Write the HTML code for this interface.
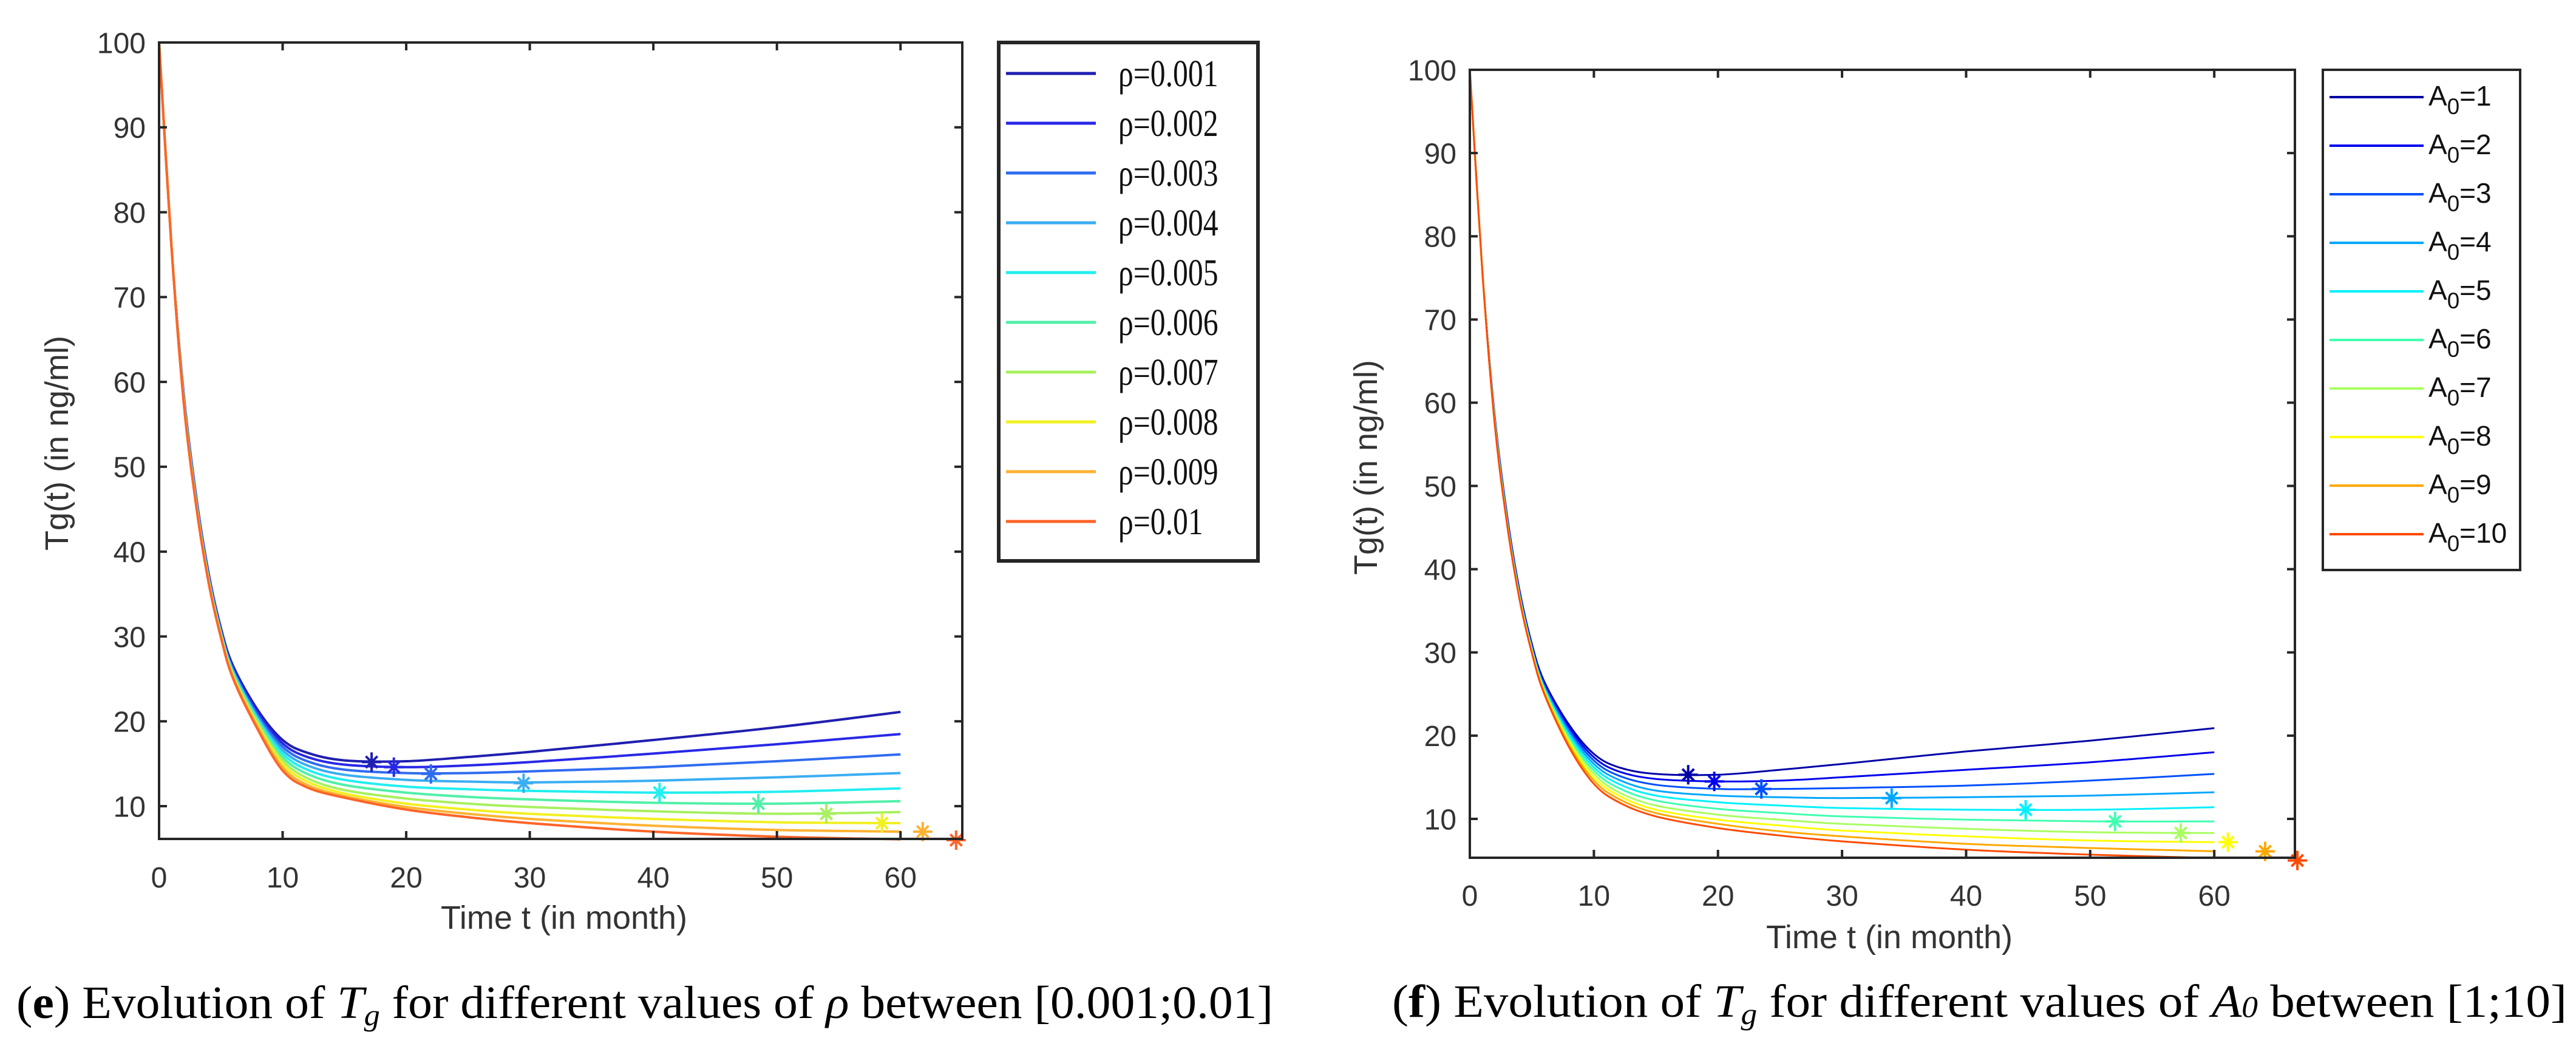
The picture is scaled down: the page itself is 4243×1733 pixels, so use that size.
<!DOCTYPE html>
<html><head><meta charset="utf-8"><style>
html,body{margin:0;padding:0;background:#fff;}
svg{display:block;}
</style></head><body>
<svg id="fig" width="4243" height="1733" viewBox="0 0 4243 1733" xmlns="http://www.w3.org/2000/svg">
<rect x="0" y="0" width="4243" height="1733" fill="#fff"/>
<g id="chartE"></g>
<g id="chartF"></g>
<text x="27" y="1677" font-family="Liberation Serif, serif" font-size="76" fill="#000" textLength="2070" lengthAdjust="spacingAndGlyphs">(<tspan font-weight="bold">e</tspan>) Evolution of <tspan font-style="italic">T<tspan font-size="50" dy="12">g</tspan></tspan><tspan dy="-12"> for different values of </tspan><tspan font-style="italic">ρ</tspan> between [0.001;0.01]</text>
<text x="2293" y="1675" font-family="Liberation Serif, serif" font-size="76" fill="#000" textLength="1935" lengthAdjust="spacingAndGlyphs">(<tspan font-weight="bold">f</tspan>) Evolution of <tspan font-style="italic">T<tspan font-size="50" dy="12">g</tspan></tspan><tspan dy="-12"> for different values of </tspan><tspan font-style="italic">A<tspan font-size="50">0</tspan></tspan> between [1;10]</text>
</svg>
<script>
// ---- shared sample times ----
const sampleTimes = [0,1,2,3,4,5,6,8,10,12,15,20,25,30,40,50,60];
const xTicks = [0,10,20,30,40,50,60];
const yTicks = [10,20,30,40,50,60,70,80,90,100];

// ---- chart (e): rho ----
const rhoLabels = ['0.001','0.002','0.003','0.004','0.005','0.006','0.007','0.008','0.009','0.01'];
const rhoSeries1 = [100,76,58.5,46.5,37.5,31,26.5,21.3,17.8,16.3,15.4,15.3,15.8,16.4,17.8,19.3,21.1];
const rhoSeries2 = [100,76,58.3,46.3,37.3,30.8,26.2,21.0,17.4,15.8,14.9,14.6,14.8,15.2,16.2,17.3,18.5];
const rhoSeries3 = [100,76,58.2,46.1,37.1,30.6,26.0,20.7,17.0,15.3,14.3,13.9,13.9,14.1,14.6,15.3,16.1];
const rhoSeries4 = [100,76,58.1,46.0,37.0,30.5,25.9,20.4,16.6,14.8,13.7,13.1,12.9,12.8,13.0,13.4,13.9];
const rhoSeries5 = [100,76,58.0,45.9,36.9,30.4,25.7,20.2,16.2,14.3,13.1,12.3,12.0,11.8,11.6,11.7,12.1];
const rhoSeries6 = [100,76,57.9,45.8,36.8,30.3,25.6,20.0,15.8,13.8,12.5,11.6,11.1,10.8,10.4,10.3,10.6];
const rhoSeries7 = [100,76,57.8,45.7,36.7,30.2,25.4,19.8,15.4,13.3,11.9,10.9,10.3,9.9,9.4,9.1,9.3];
const rhoSeries8 = [100,76,57.7,45.6,36.6,30.1,25.3,19.5,15.0,12.9,11.5,10.3,9.6,9.1,8.5,8.1,8.0];
const rhoSeries9 = [100,76,57.6,45.5,36.5,30.0,25.2,19.3,14.6,12.5,11.2,9.9,9.1,8.5,7.7,7.2,7.0];
const rhoSeries10 = [100,76,57.5,45.4,36.4,29.9,25.0,19.0,14.2,12.2,11.0,9.6,8.7,8.0,7.0,6.4,6.1];
const rhoMinT = [17.2,19,22,29.5,40.5,48.5,54,58.5,61.8,64.5];
const rhoMinV = [15.2,14.6,13.8,12.7,11.6,10.3,9.1,8.0,7.0,6.0];

// ---- chart (f): A0 ----
const a0Labels = ['1','2','3','4','5','6','7','8','9','10'];
const a0Series1 = [100,76,58.5,46.5,37.5,31,26.5,21.3,17.8,16.2,15.4,15.3,15.9,16.6,18.1,19.4,20.9];
const a0Series2 = [100,76,58.3,46.3,37.3,30.8,26.2,21.0,17.4,15.7,14.8,14.5,14.6,15.0,15.9,16.8,18.0];
const a0Series3 = [100,76,58.2,46.1,37.1,30.6,26.0,20.7,17.0,15.2,14.1,13.6,13.6,13.7,14.0,14.6,15.4];
const a0Series4 = [100,76,58.1,46.0,37.0,30.5,25.9,20.4,16.6,14.7,13.4,12.8,12.6,12.5,12.6,12.8,13.2];
const a0Series5 = [100,76,58.0,45.9,36.9,30.4,25.7,20.1,16.2,14.2,12.8,12.0,11.6,11.3,11.1,11.1,11.4];
const a0Series6 = [100,76,57.9,45.8,36.8,30.3,25.6,19.8,15.8,13.7,12.2,11.2,10.7,10.3,9.9,9.7,9.7];
const a0Series7 = [100,76,57.8,45.7,36.7,30.2,25.4,19.5,15.4,13.2,11.6,10.5,9.9,9.4,8.8,8.4,8.3];
const a0Series8 = [100,76,57.7,45.6,36.6,30.1,25.3,19.2,15.0,12.8,11.1,9.9,9.2,8.6,7.9,7.4,7.2];
const a0Series9 = [100,76,57.6,45.5,36.5,30.0,25.2,18.9,14.6,12.4,10.7,9.4,8.5,7.9,7.0,6.5,6.1];
const a0Series10 = [100,76,57.5,45.4,36.4,29.9,25.0,18.6,14.2,12.0,10.3,8.9,8.0,7.3,6.3,5.7,5.3];
const a0MinT = [17.6,19.7,23.5,34,44.8,52.0,57.3,61.1,64.1,66.7];
const a0MinV = [15.3,14.5,13.6,12.5,11.1,9.7,8.3,7.2,6.1,5.0];

const NS = 'http://www.w3.org/2000/svg';
function mk(parent, tag, attrs){
  const e = document.createElementNS(NS, tag);
  for (const k in attrs) e.setAttribute(k, attrs[k]);
  parent.appendChild(e);
  return e;
}
function smoothPath(pts){
  let d = 'M' + pts[0][0].toFixed(1) + ',' + pts[0][1].toFixed(1);
  for (let i = 0; i < pts.length - 1; i++){
    const p0 = pts[Math.max(0, i - 1)], p1 = pts[i], p2 = pts[i + 1], p3 = pts[Math.min(pts.length - 1, i + 2)];
    const c1x = p1[0] + (p2[0] - p0[0]) / 6, c1y = p1[1] + (p2[1] - p0[1]) / 6;
    const c2x = p2[0] - (p3[0] - p1[0]) / 6, c2y = p2[1] - (p3[1] - p1[1]) / 6;
    d += 'C' + c1x.toFixed(1) + ',' + c1y.toFixed(1) + ' ' + c2x.toFixed(1) + ',' + c2y.toFixed(1) + ' ' + p2[0].toFixed(1) + ',' + p2[1].toFixed(1);
  }
  return d;
}

function drawChart(g, cfg){
  const sx = t => cfg.L + (t - cfg.xmin) / (cfg.xmax - cfg.xmin) * (cfg.R - cfg.L);
  const sy = v => cfg.B - (v - cfg.ymin) / (cfg.ymax - cfg.ymin) * (cfg.B - cfg.T);
  cfg.series.forEach((vals, i) => {
    const pts = vals.map((v, j) => [sx(sampleTimes[j]), sy(v)]);
    const p = mk(g, 'path', {d: smoothPath(pts), fill: 'none', stroke: cfg.colors[i], 'stroke-width': cfg.lw, 'stroke-linejoin': 'round'});
    
    
  });
  cfg.minT.forEach((t, i) => {
    const cx = sx(t), cy = sy(cfg.minV[i]), r = 16;
    let d = 'M' + (cx - r) + ',' + cy + 'h' + (2 * r) + 'M' + cx + ',' + (cy - r) + 'v' + (2 * r);
    const q = r * 0.6;
    d += 'M' + (cx - q) + ',' + (cy - q) + 'L' + (cx + q) + ',' + (cy + q) + 'M' + (cx - q) + ',' + (cy + q) + 'L' + (cx + q) + ',' + (cy - q);
    const s = mk(g, 'path', {d: d, stroke: cfg.colors[i], 'stroke-width': 4, fill: 'none'});
    
    
  });
  const box = mk(g, 'rect', {x: cfg.L, y: cfg.T, width: cfg.R - cfg.L, height: cfg.B - cfg.T, fill: 'none', stroke: '#262626', 'stroke-width': 4});
  
  
  const tl = 13, fs = cfg.fs;
  xTicks.forEach(t => {
    const x = sx(t);
    mk(g, 'path', {d: 'M' + x + ',' + cfg.B + 'v' + (-tl) + 'M' + x + ',' + cfg.T + 'v' + tl, stroke: '#262626', 'stroke-width': 4});
    const tx = mk(g, 'text', {x: x, y: cfg.xTickY, 'text-anchor': 'middle', 'font-family': 'Liberation Sans, sans-serif', 'font-size': fs, fill: '#333'});
    tx.textContent = t;
    
    
  });
  yTicks.forEach(v => {
    const y = sy(v);
    mk(g, 'path', {d: 'M' + cfg.L + ',' + y + 'h' + tl + 'M' + cfg.R + ',' + y + 'h' + (-tl), stroke: '#262626', 'stroke-width': 4});
    const ty = mk(g, 'text', {x: cfg.yTickX, y: y + fs * 0.36, 'text-anchor': 'end', 'font-family': 'Liberation Sans, sans-serif', 'font-size': fs, fill: '#333'});
    ty.textContent = v;
    
    
  });
  const xl = mk(g, 'text', {x: cfg.xLab[0], y: cfg.xLab[1], 'text-anchor': 'middle', 'font-family': 'Liberation Sans, sans-serif', 'font-size': 54, fill: '#333'});
  xl.textContent = 'Time t (in month)';
  
  
  const yl = mk(g, 'text', {x: 0, y: 0, transform: 'translate(' + cfg.yLab[0] + ',' + cfg.yLab[1] + ') rotate(-90)', 'text-anchor': 'middle', 'font-family': 'Liberation Sans, sans-serif', 'font-size': 54, fill: '#333'});
  yl.textContent = 'Tg(t) (in ng/ml)';
  
  
  const lg = cfg.leg;
  const lb = mk(g, 'rect', {x: lg.x, y: lg.y, width: lg.w, height: lg.h, fill: '#fff', stroke: '#262626', 'stroke-width': lg.bw});
  
  
  cfg.labels.forEach((lab, i) => {
    const y = lg.y0 + i * lg.dy;
    const ln = mk(g, 'line', {x1: lg.lx1, x2: lg.lx2, y1: y, y2: y, stroke: cfg.colors[i], 'stroke-width': cfg.lw + 1});
    
    
    const t = mk(g, 'text', {x: lg.tx, y: y + lg.fs * 0.3, 'font-family': lg.font, 'font-size': lg.fs, fill: '#111'});
    if (cfg.kind === 'rho') {
      t.textContent = 'ρ=' + lab;
      t.setAttribute('transform', 'translate(' + lg.tx + ',0) scale(0.92,1.15) translate(' + (-lg.tx) + ',0)');
      t.setAttribute('y', (y + lg.fs * 0.3) / 1.15 + 4);
    } else {
      t.textContent = 'A';
      const sub = mk(t, 'tspan', {'font-size': lg.fs * 0.8, dy: 14});
      sub.textContent = '0';
      const rest = mk(t, 'tspan', {dy: -14});
      rest.textContent = '=' + lab;
    }
    
    
  });
}

drawChart(document.getElementById('chartE'), {
  kind: 'rho', L: 262, R: 1585, T: 70, B: 1382, xmin: 0, xmax: 65, ymin: 6.14, ymax: 100,
  series: [rhoSeries1, rhoSeries2, rhoSeries3, rhoSeries4, rhoSeries5, rhoSeries6, rhoSeries7, rhoSeries8, rhoSeries9, rhoSeries10],
  minT: rhoMinT, minV: rhoMinV, labels: rhoLabels, lw: 4, fs: 48,
  colors: ['#1f1fb0','#2828e8','#2f6cf0','#3aaef2','#22eef0','#50f0a8','#a8f060','#f2f020','#ffb232','#ff6428'],
  xTickY: 1462, yTickX: 240, xLab: [929, 1530], yLab: [112, 730],
  leg: {x: 1645, y: 70, w: 427, h: 854, bw: 6, y0: 121, dy: 82, lx1: 1657, lx2: 1805, tx: 1842, fs: 54, font: 'Liberation Serif, serif'}
});
drawChart(document.getElementById('chartF'), {
  kind: 'a0', L: 2421, R: 3780, T: 115, B: 1413, xmin: 0, xmax: 66.5, ymin: 5.33, ymax: 100,
  series: [a0Series1, a0Series2, a0Series3, a0Series4, a0Series5, a0Series6, a0Series7, a0Series8, a0Series9, a0Series10],
  minT: a0MinT, minV: a0MinV, labels: a0Labels, lw: 3, fs: 48,
  colors: ['#0000a8','#0000ee','#0050ff','#00a6ff','#00f0ff','#40ffb0','#a8ff60','#ffff00','#ffa800','#ff4a00'],
  xTickY: 1492, yTickX: 2399, xLab: [3112, 1562], yLab: [2268, 770],
  leg: {x: 3826, y: 115, w: 325, h: 824, bw: 4, y0: 160, dy: 80, lx1: 3837, lx2: 3992, tx: 4000, fs: 46, font: 'Liberation Sans, sans-serif'}
});
</script>
</body></html>
